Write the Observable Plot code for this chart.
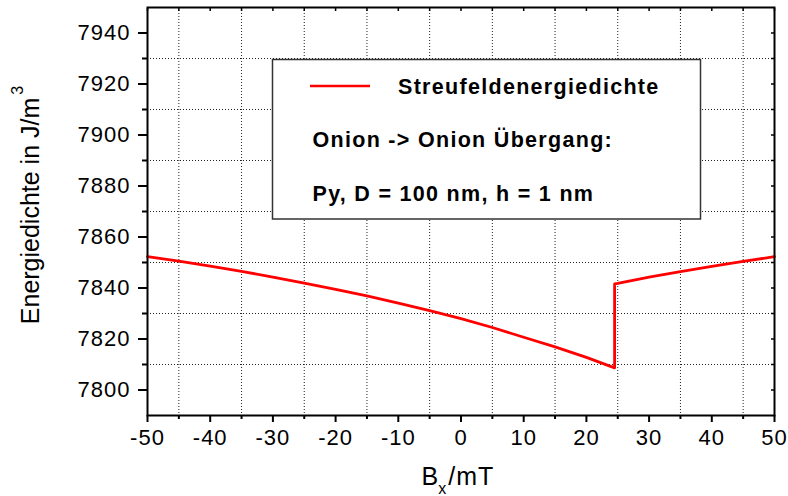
<!DOCTYPE html>
<html>
<head>
<meta charset="utf-8">
<script src="https://cdn.jsdelivr.net/npm/d3@7"></script>
<script src="https://cdn.jsdelivr.net/npm/@observablehq/plot@0.6"></script>
<style>
  body { margin: 0; background: #fff; }
  #chart svg { font-family: "Liberation Sans", Arial, sans-serif; }
  g[aria-label$="tick label"] text { letter-spacing: 1px; }
</style>
</head>
<body>
<div id="chart"></div>
<script>
// ---- data ----
const bx = [-50, -45, -40, -35, -30, -25, -20, -15, -10, -5, 0, 5, 10, 15, 20, 24.5,
            24.5, 25, 30, 35, 40, 45, 50];
const energy = [7852.3, 7850.5, 7848.6, 7846.5, 7844.3, 7841.9, 7839.5, 7836.9, 7834.1, 7831.1,
                7828.0, 7824.5, 7820.7, 7816.9, 7812.8, 7808.7,
                7841.6, 7841.8, 7844.3, 7846.4, 7848.5, 7850.4, 7852.3];

const xMajorTicks = [-50, -40, -30, -20, -10, 0, 10, 20, 30, 40, 50];
const xMinorTicks = [-45, -35, -25, -15, -5, 5, 15, 25, 35, 45];
const yMajorTicks = [7800, 7820, 7840, 7860, 7880, 7900, 7920, 7940];
const yMinorTicks = [7810, 7830, 7850, 7870, 7890, 7910, 7930];

const xTitle = "B", xTitleSub = "x", xTitleRest = "/mT";
const yTitle = "Energiedichte in J/m", yTitleSup = "3";
const legendSeries = "Streufeldenergiedichte";
const legendLine2 = "Onion -> Onion Übergang:";
const legendLine3 = "Py, D = 100 nm, h = 1 nm";

// ---- chart ----
const data = bx.map((x, i) => ({x, y: energy[i]}));
const fmt = d => String(d);
const none = () => "";

const plot = Plot.plot({
  width: 788,
  height: 496,
  marginLeft: 147,
  marginRight: 14,
  marginTop: 7,
  marginBottom: 81,
  style: {background: "white", fontFamily: "Liberation Sans, Arial, sans-serif", overflow: "visible"},
  x: {domain: [-50, 50]},
  y: {domain: [7790, 7950]},
  marks: [
    Plot.gridX(xMinorTicks, {stroke: "#222", strokeOpacity: 1, strokeWidth: 1, strokeDasharray: "1,2"}),
    Plot.gridY(yMinorTicks, {stroke: "#222", strokeOpacity: 1, strokeWidth: 1, strokeDasharray: "1,2"}),
    Plot.line(data, {x: "x", y: "y", stroke: "#ff0000", strokeWidth: 2.8}),
    Plot.frame({stroke: "black", strokeWidth: 2}),
    Plot.axisX(xMajorTicks, {anchor: "bottom", tickSize: 7, tickPadding: 7, fontSize: 22, tickFormat: fmt, label: null, strokeWidth: 2}),
    Plot.axisX(xMinorTicks, {anchor: "bottom", tickSize: 4, tickFormat: none, label: null, strokeWidth: 2}),
    Plot.axisX([...xMajorTicks, ...xMinorTicks], {anchor: "top", tickSize: -3, tickFormat: none, label: null, strokeWidth: 1.5}),
    Plot.axisY(yMajorTicks, {anchor: "left", tickSize: 9, tickPadding: 8, fontSize: 22, tickFormat: fmt, label: null, strokeWidth: 2}),
    Plot.axisY(yMinorTicks, {anchor: "left", tickSize: 5, tickFormat: none, label: null, strokeWidth: 2}),
    Plot.axisY([...yMajorTicks, ...yMinorTicks], {anchor: "right", tickSize: -4, tickFormat: none, label: null, strokeWidth: 1.5})
  ]
});

document.getElementById("chart").appendChild(plot);

// ---- titles and legend ----
const svg = d3.select(plot);

const yt = svg.append("text")
  .attr("transform", "translate(38.5,205) rotate(-90)")
  .attr("text-anchor", "middle")
  .attr("font-size", 25)
  .attr("fill", "black");
yt.append("tspan").text(yTitle);
yt.append("tspan").attr("font-size", 16).attr("dx", 3).attr("dy", -16).text(yTitleSup);

const xt = svg.append("text")
  .attr("x", 421.5).attr("y", 485)
  .attr("text-anchor", "start")
  .attr("font-size", 25)
  .attr("letter-spacing", "1px")
  .attr("fill", "black");
xt.append("tspan").text(xTitle);
xt.append("tspan").attr("font-size", 16).attr("dx", -1).attr("dy", 9).text(xTitleSub);
xt.append("tspan").attr("dx", 1).attr("dy", -9).text(xTitleRest);

const lg = svg.append("g").attr("font-weight", "bold").attr("font-size", 21.5)
  .attr("letter-spacing", "1.3px").attr("text-anchor", "start").attr("fill", "black");
lg.append("rect").attr("x", 272.5).attr("y", 59.5).attr("width", 428).attr("height", 159.5)
  .attr("fill", "white").attr("stroke", "#333").attr("stroke-width", 1.5);
lg.append("line").attr("x1", 310).attr("x2", 370).attr("y1", 86).attr("y2", 86)
  .attr("stroke", "#ff0000").attr("stroke-width", 2.5);
lg.append("text").attr("x", 398).attr("y", 94).text(legendSeries);
lg.append("text").attr("x", 312.5).attr("y", 147.3).text(legendLine2);
lg.append("text").attr("x", 312.5).attr("y", 200.7).text(legendLine3);
</script>
</body>
</html>
